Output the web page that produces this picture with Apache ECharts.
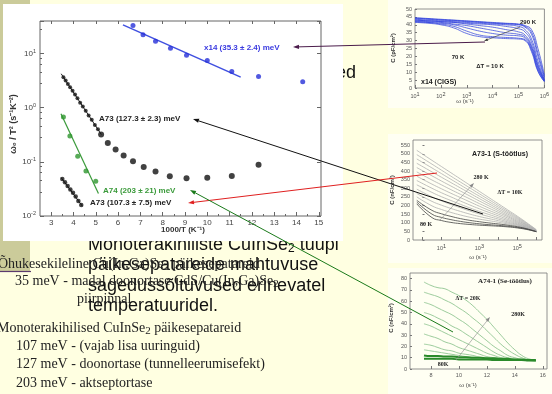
<!DOCTYPE html>
<html><head><meta charset="utf-8">
<script src="https://cdn.jsdelivr.net/npm/echarts@6/dist/echarts.min.js"></script>
<style>html,body{margin:0;padding:0;background:#FFFFE1;}#c{width:552px;height:394px;}</style>
</head><body><div id="c"></div>
<script>
// ---------- main Arrhenius plot data ----------
const mainXTicks = [3,4,5,6,7,8,9,10,11,12,13,14,15];
const x14T = [6.67,7.12,7.68,8.35,9.07,10.0,11.1,12.3,14.28];
const x14W = [33,22.2,16.9,12.6,9.35,7.47,4.68,3.78,3.02];
const x14FitT = [6.22,11.5];
const x14FitW = [33.9,3.68];
const a73hiSmallT = [3.55,3.65,3.75,3.85,3.96,4.07,4.18,4.30,4.42,4.55,4.68,4.82,4.96,5.10];
const a73hiSmallW = [3.67,3.2,2.75,2.4,2.05,1.75,1.5,1.24,1.05,0.88,0.72,0.6,0.48,0.40];
const a73hiBigT = [5.24,5.54,5.89,6.25,6.67,7.15,7.68,8.32,9.07,10.0,11.1,12.3];
const a73hiBigW = [0.32,0.224,0.169,0.131,0.103,0.080,0.0666,0.0545,0.050,0.0507,0.055,0.088];
const a73hiFitT = [3.45,5.25];
const a73hiFitW = [4.24,0.32];
const a74T = [3.55,3.84,4.19,4.56,5.0];
const a74W = [0.675,0.301,0.127,0.068,0.044];
const a74FitT = [3.44,5.12];
const a74FitW = [0.778,0.026];
const a73loT = [3.5,3.62,3.74,3.86,3.98,4.1,4.22,4.35];
const a73loW = [0.048,0.042,0.036,0.031,0.027,0.023,0.019,0.016];
const a73loFitT = [3.45,4.4];
const a73loFitW = [0.051,0.0152];

// ---------- panel 1: x14 (CIGS) C vs log10(omega) ----------
const p1X = [1,1.5,2,2.5,3,3.5,4,4.5,5,5.25,5.5,5.75,6];
const p1Curves = [
  [44.5,44,43.5,43,42.5,42,41.5,41,40.5,39.5,37,25,8],
  [44.2,43.8,43.2,42.8,42.3,41.8,41.2,40.8,40.2,39,35.5,22,7],
  [44,43.5,43,42.5,42,41.5,41,40.5,40,38.5,34,20,6],
  [43.5,43,42.5,42,41.5,41,40.5,40,39,37,31,17,5],
  [43,42.5,42,41.5,41,40.5,40,39,37.5,35.5,29,15,5],
  [43,42.5,42,41.5,40.5,39.5,38.5,37,35.5,33.5,27,14,4.5],
  [42.5,42,41.5,40.5,39.5,38,36.5,35,34,32.5,26,13,4.5],
  [42,41.5,41,40,38,36,34.5,33.5,33,31.5,25,12,4.5],
  [42,41.5,40.5,39,36,33.5,32.5,32,31.5,30.5,24,11,4],
  [41.5,41,40,38,34.5,32.5,31.8,31.3,31,30,23,10.5,4]
];
// ---------- panel 2: A73-1 (S-töötlus) ----------
const p2X = [-0.3,0.5,1,1.5,2,2.5,3,3.5,4,4.5,5,5.5,6];
const p2Curves = [
  [520,462,426,390,354,318,282,246,210,174,138,100,60],
  [495,440,405,370,336,302,268,234,200,166,132,96,58],
  [470,418,385,352,319,286,254,222,190,158,126,92,57],
  [445,395,364,333,302,271,240,210,180,150,120,88,56],
  [420,372,342,313,284,255,226,198,170,142,114,85,55],
  [395,348,320,292,265,238,211,185,160,135,108,82,54],
  [370,324,297,271,246,221,196,172,150,127,103,79,53],
  [345,300,274,250,226,203,181,160,140,119,98,76,52],
  [320,276,251,229,207,186,166,148,130,112,93,73,51],
  [295,250,227,206,187,168,151,136,121,105,89,71,50],
  [270,224,202,183,166,150,136,124,112,99,85,69,50],
  [250,198,177,160,145,132,121,112,103,93,81,67,49],
  [230,172,152,137,124,114,106,99,93,86,77,65,49],
  [220,150,131,118,108,100,94,89,85,80,73,63,48],
  [210,130,113,102,95,90,86,83,80,76,70,61,48]
];
// ---------- panel 3: A74-1 (Se-töötlus) ----------
const p3X = [7.5,8,8.5,9,9.5,10,10.5,11,11.5,12,12.5,13,13.5,14,14.5,15,15.5];
const p3Curves = [
  [77,74,72,71,68,65,61,56,50,44,37,30,23,17,12,9,8],
  [68,66,64,61,58,54,50,45,40,34,28,22,17,13,10,8,7.5],
  [59,57,54,51,48,44,40,35,30,25,20,16,12,10,8.5,8,7.5],
  [50,48,45,42,38,35,31,27,23,19,15,12,10,9,8,7.5,7.5],
  [40,38,35,32,29,26,23,20,17,14,12,10,9,8,8,7.5,7.5],
  [31,29,27,24,22,19,17,15,13,11,10,9,8,8,7.5,7.5,7],
  [22,21,19,17,16,14,13,12,10.5,10,9,8.5,8,8,7.5,7.5,7],
  [17,16,15,14,13,12,11,10.5,10,9.5,9,8.5,8,8,7.5,7.5,7]
];
const p3Band = [
  [12,11.5,11.5,11,11,10.5,10.5,10,10,9.5,9.5,9,9,8.5,8.5,8,8],
  [9,9,9,9,9,8.5,8.5,8.5,8.5,8.5,8,8,8,8,8,7.5,7.5]
];

const zip = (a,b) => a.map((v,i)=>[v,b[i]]);
const SANS = 'Liberation Sans, Arial, sans-serif';
const SERIF = 'Liberation Serif, Times New Roman, serif';
const sup = {fontSize:5.5, padding:[0,0,5,0], color:'#444', fontFamily:SANS};
const expFmt = v => '10{sup|' + Math.round(v) + '}';
const logFmt = v => '10{sup|' + Math.round(Math.log10(v)) + '}';

const chart = echarts.init(document.getElementById('c'), null, {renderer:'canvas'});

function panelAxisLabel(extra){ return Object.assign({fontSize:5.5,color:'#555',fontFamily:SANS,margin:3}, extra||{}); }

const series = [];
// main
series.push({type:'line',xAxisIndex:0,yAxisIndex:0,data:zip(x14FitT,x14FitW),symbol:'none',lineStyle:{color:'#4050e0',width:1.5},z:3});
series.push({type:'scatter',xAxisIndex:0,yAxisIndex:0,data:zip(x14T,x14W),symbolSize:5,itemStyle:{color:'#2530d8'},z:4});
series.push({type:'line',xAxisIndex:0,yAxisIndex:0,data:zip(a73hiFitT,a73hiFitW),symbol:'none',lineStyle:{color:'#222',width:1},z:3});
series.push({type:'scatter',xAxisIndex:0,yAxisIndex:0,data:zip(a73hiSmallT,a73hiSmallW),symbolSize:4,itemStyle:{color:'#111'},z:4});
series.push({type:'scatter',xAxisIndex:0,yAxisIndex:0,data:zip(a73hiBigT,a73hiBigW),symbolSize:6,itemStyle:{color:'#111'},z:4});
series.push({type:'line',xAxisIndex:0,yAxisIndex:0,data:zip(a74FitT,a74FitW),symbol:'none',lineStyle:{color:'#3a9a3a',width:1.2},z:3});
series.push({type:'scatter',xAxisIndex:0,yAxisIndex:0,data:zip(a74T,a74W),symbolSize:5,itemStyle:{color:'#2e962e'},z:4});
series.push({type:'line',xAxisIndex:0,yAxisIndex:0,data:zip(a73loFitT,a73loFitW),symbol:'none',lineStyle:{color:'#222',width:1},z:3});
series.push({type:'scatter',xAxisIndex:0,yAxisIndex:0,data:zip(a73loT,a73loW),symbolSize:4.5,itemStyle:{color:'#111'},z:4});
// panel 1
p1Curves.forEach(c=>series.push({type:'line',xAxisIndex:3,yAxisIndex:2,data:zip(p1X,c),symbol:'none',smooth:true,lineStyle:{color:'#3344dd',width:1,opacity:0.75}}));
// panel 2
p2Curves.forEach((c,i)=>series.push({type:'line',xAxisIndex:4,yAxisIndex:3,data:zip(p2X,c),symbol:'none',smooth:true,lineStyle:{color:i>=12?'#444':'#b0b0b0',width:0.8}}));
// panel 3
p3Curves.forEach(c=>series.push({type:'line',xAxisIndex:5,yAxisIndex:4,data:zip(p3X,c),symbol:'none',smooth:true,lineStyle:{color:'#9ccc9c',width:1}}));
p3Band.forEach(c=>series.push({type:'line',xAxisIndex:5,yAxisIndex:4,data:zip(p3X,c),symbol:'none',smooth:true,lineStyle:{color:'#2a8a2a',width:2}}));

function txt(x,y,s,opt){
  return Object.assign({type:'text',x:x,y:y,z:50,style:Object.assign({text:s,fontSize:8,fontWeight:'bold',fontFamily:SANS,fill:'#222',align:'left',verticalAlign:'middle'},opt||{})}, {});
}
function arrow(x1,y1,x2,y2,color,w,hs){
  hs = hs||6;
  const a = Math.atan2(y2-y1,x2-x1);
  const bx = x2 - hs*Math.cos(a), by = y2 - hs*Math.sin(a);
  const px = -Math.sin(a)*hs*0.35, py = Math.cos(a)*hs*0.35;
  return [
    {type:'line',z:60,shape:{x1:x1,y1:y1,x2:bx,y2:by},style:{stroke:color,lineWidth:w}},
    {type:'polygon',z:60,shape:{points:[[x2,y2],[bx+px,by+py],[bx-px,by-py]]},style:{fill:color}}
  ];
}
const subRich = {sub:{fontSize:11,padding:[6,0,0,0],fontFamily:SERIF,fill:'#222'}};
const bigRich = {sub:{fontSize:12,padding:[8,0,0,0],fontFamily:SANS}};

const graphic = [
  {type:'rect',z:-30,shape:{x:0,y:0,width:30,height:271},style:{fill:'#CBCB9A'}},
  {type:'line',z:-29,shape:{x1:0,y1:271.5,x2:31,y2:271.5},style:{stroke:'#5b3a6e',lineWidth:1.2}},
  // big sans text (partly behind white panel)
  {type:'text',z:-25,x:336,y:73,style:{text:'ed',fontSize:18,fontFamily:SANS,fill:'#111',verticalAlign:'middle'}},
  {type:'text',z:-25,x:88,y:245,style:{text:'Monoterakihiliste CuInSe{sub|2} tuupi',rich:bigRich,fontSize:18,fontFamily:SANS,fill:'#111',verticalAlign:'middle'}},
  {type:'text',z:-25,x:88,y:265,style:{text:'päikesepatareide mahtuvuse',fontSize:18,fontFamily:SANS,fill:'#111',verticalAlign:'middle'}},
  {type:'text',z:-25,x:88,y:286,style:{text:'sagedussõltuvused erinevatel',fontSize:18,fontFamily:SANS,fill:'#111',verticalAlign:'middle'}},
  {type:'text',z:-25,x:88,y:306,style:{text:'temperatuuridel.',fontSize:18,fontFamily:SANS,fill:'#111',verticalAlign:'middle'}},
  // serif text
  {type:'text',z:-24,x:-2,y:264,style:{text:'Õhukesekileline Cu(In,Ga)Se{sub|2} päikesepatareid',rich:subRich,fontSize:14,fontFamily:SERIF,fill:'#222',verticalAlign:'middle'}},
  {type:'text',z:-24,x:15,y:281,style:{text:'35 meV - madal doonortase CdS/Cu(In,Ga)Se{sub|2}',rich:subRich,fontSize:14,fontFamily:SERIF,fill:'#222',verticalAlign:'middle'}},
  {type:'text',z:-24,x:77,y:299,style:{text:'piirpinnal',fontSize:14,fontFamily:SERIF,fill:'#222',verticalAlign:'middle'}},
  {type:'text',z:-24,x:-3,y:328,style:{text:'Monoterakihilised CuInSe{sub|2} päikesepatareid',rich:subRich,fontSize:14,fontFamily:SERIF,fill:'#222',verticalAlign:'middle'}},
  {type:'text',z:-24,x:16,y:346,style:{text:'107 meV - (vajab lisa uuringuid)',fontSize:14,fontFamily:SERIF,fill:'#222',verticalAlign:'middle'}},
  {type:'text',z:-24,x:16,y:364,style:{text:'127 meV - doonortase (tunnelleerumisefekt)',fontSize:14,fontFamily:SERIF,fill:'#222',verticalAlign:'middle'}},
  {type:'text',z:-24,x:16,y:383,style:{text:'203 meV - aktseptortase',fontSize:14,fontFamily:SERIF,fill:'#222',verticalAlign:'middle'}},
  // white panel
  {type:'rect',z:-20,shape:{x:3,y:4,width:340,height:237},style:{fill:'#ffffff'}},
  // right image backgrounds
  {type:'rect',z:-20,shape:{x:388,y:0,width:164,height:108},style:{fill:'#FFFFF3'}},
  {type:'rect',z:-20,shape:{x:388,y:134,width:164,height:129},style:{fill:'#FFFFF3'}},
  {type:'rect',z:-20,shape:{x:388,y:268,width:164,height:126},style:{fill:'#FFFFF3'}},
  // main chart labels
  txt(204,48,'x14 (35.3 ± 2.4) meV',{fill:'#3a3ae0'}),
  txt(99,119,'A73 (127.3 ± 2.3) meV'),
  txt(103,191,'A74 (203 ± 21) meV',{fill:'#3a9a3a'}),
  txt(90,203,'A73 (107.3 ± 7.5) meV'),
  txt(183,230,'1000/T (K⁻¹)',{align:'center',fontSize:8,fill:'#333'}),
  {type:'text',z:50,x:14,y:124,rotation:Math.PI/2,style:{text:'ω₀ / T² (s⁻¹K⁻²)',fontSize:9,fontWeight:'bold',fontFamily:SANS,fill:'#333',align:'center',verticalAlign:'middle'}},
  // panel 1 labels
  txt(528,22,'290 K',{fontSize:6,align:'center'}),
  txt(458,57,'70 K',{fontSize:6,align:'center'}),
  txt(490,66,'ΔT = 10 K',{fontSize:6,align:'center'}),
  txt(421,82,'x14 (CIGS)',{fontSize:7}),
  txt(465,101,'ω (s⁻¹)',{fontSize:6,align:'center',fontWeight:'normal',fill:'#444'}),
  {type:'text',z:50,x:393,y:48,rotation:Math.PI/2,style:{text:'C (pF/cm²)',fontSize:6,fontWeight:'bold',fontFamily:SANS,fill:'#333',align:'center',verticalAlign:'middle'}},
  // panel 2 labels
  txt(500,154,'A73-1 (S-töötlus)',{fontSize:7,align:'center'}),
  txt(481,177,'280 K',{fontSize:6,fontFamily:SERIF,align:'center'}),
  txt(510,192,'ΔT = 10K',{fontSize:6,fontFamily:SERIF,align:'center'}),
  txt(426,224,'80 K',{fontSize:6,fontFamily:SERIF,align:'center'}),
  txt(478,257,'ω (s⁻¹)',{fontSize:6,align:'center',fontWeight:'normal',fill:'#444'}),
  {type:'text',z:50,x:392,y:190,rotation:Math.PI/2,style:{text:'C (nF/cm²)',fontSize:6,fontWeight:'bold',fontFamily:SANS,fill:'#333',align:'center',verticalAlign:'middle'}},
  // panel 3 labels
  txt(505,281,'A74-1 (Se-töötlus)',{fontSize:7,fontFamily:SERIF,align:'center'}),
  txt(468,298,'ΔT = 20K',{fontSize:6,fontFamily:SERIF,align:'center'}),
  txt(518,314,'280K',{fontSize:6,fontFamily:SERIF,align:'center'}),
  txt(443,364,'80K',{fontSize:6,fontFamily:SERIF,align:'center'}),
  txt(468,385,'ω (s⁻¹)',{fontSize:6,align:'center',fontWeight:'normal',fill:'#444'}),
  {type:'text',z:50,x:391,y:318,rotation:Math.PI/2,style:{text:'C (nF/cm²)',fontSize:6,fontWeight:'bold',fontFamily:SANS,fill:'#333',align:'center',verticalAlign:'middle'}}
]
.concat(arrow(520,27,484,41,'#333',0.6,4))
.concat(arrow(440,220,474,183,'#888',0.6,5))
.concat(arrow(456,360,490,317,'#888',0.6,5))
.concat(arrow(485,42,293,47,'#4b1c4b',1,6))
.concat(arrow(483,214,193,119,'#111',1,6))
.concat(arrow(437,173,188,203,'#e02020',1,6))
.concat(arrow(453,332,190,190,'#1a7a1a',1,6));

const axisCol = '#666';
const option = {
  animation:false,
  backgroundColor:'#FFFFE1',
  grid:[
    {left:40,top:21,width:281,height:195,containLabel:false,show:true,borderColor:axisCol,borderWidth:1,backgroundColor:'transparent'},
    {left:415,top:9,width:132,height:79,containLabel:false,show:true,borderColor:'#777',borderWidth:0.8,backgroundColor:'transparent'},
    {left:413,top:140,width:129,height:100,containLabel:false,show:true,borderColor:'#777',borderWidth:0.8,backgroundColor:'transparent'},
    {left:410,top:273,width:137,height:96,containLabel:false,show:true,borderColor:'#777',borderWidth:0.8,backgroundColor:'transparent'}
  ],
  xAxis:[
    {gridIndex:0,type:'value',min:2.5,max:15.1,position:'bottom',splitLine:{show:false},axisLine:{show:false},
     axisTick:{inside:true,length:4,customValues:mainXTicks,lineStyle:{color:axisCol}},
     axisLabel:{customValues:mainXTicks,fontSize:8,color:'#444',fontFamily:SANS,margin:3}},
    {gridIndex:0,type:'value',min:2.5,max:15.1,position:'bottom',splitLine:{show:false},axisLine:{show:false},
     axisTick:{inside:true,length:2,customValues:mainXTicks.map(v=>v+0.5).filter(v=>v<15.1),lineStyle:{color:axisCol}},axisLabel:{show:false}},
    {gridIndex:0,type:'value',min:2.5,max:15.1,position:'top',splitLine:{show:false},axisLine:{show:false},
     axisTick:{inside:true,length:3,customValues:mainXTicks,lineStyle:{color:axisCol}},axisLabel:{show:false}},
    {gridIndex:1,type:'value',min:1,max:6,interval:1,splitLine:{show:false},axisLine:{show:false},
     axisTick:{inside:true,length:3,lineStyle:{color:'#777'}},axisLabel:panelAxisLabel({formatter:expFmt,rich:{sup:sup}})},
    {gridIndex:2,type:'value',min:-0.5,max:6.3,splitLine:{show:false},axisLine:{show:false},
     axisTick:{inside:true,length:3,customValues:[0,1,2,3,4,5,6],lineStyle:{color:'#777'}},
     axisLabel:panelAxisLabel({customValues:[1,3,5],formatter:expFmt,rich:{sup:sup}})},
    {gridIndex:3,type:'value',min:6.5,max:16.3,splitLine:{show:false},axisLine:{show:false},
     axisTick:{inside:true,length:3,customValues:[8,10,12,14,16],lineStyle:{color:'#777'}},
     axisLabel:panelAxisLabel({customValues:[8,10,12,14,16]})}
  ],
  yAxis:[
    {gridIndex:0,type:'log',logBase:10,min:0.01,max:40,splitLine:{show:false},axisLine:{show:false},
     axisTick:{inside:true,length:4,lineStyle:{color:axisCol}},
     minorTick:{show:true,splitNumber:5,length:2,lineStyle:{color:axisCol}},
     axisLabel:{formatter:logFmt,rich:{sup:sup},fontSize:8,color:'#444',fontFamily:SANS,margin:4,showMaxLabel:false}},
    {gridIndex:0,type:'log',logBase:10,min:0.01,max:40,position:'right',splitLine:{show:false},axisLine:{show:false},
     axisTick:{inside:true,length:4,lineStyle:{color:axisCol}},axisLabel:{show:false}},
    {gridIndex:1,type:'value',min:0,max:50,interval:5,splitLine:{show:false},axisLine:{show:false},
     axisTick:{inside:true,length:2,lineStyle:{color:'#777'}},axisLabel:panelAxisLabel()},
    {gridIndex:2,type:'value',min:0,max:580,interval:50,splitLine:{show:false},axisLine:{show:false},
     axisTick:{inside:true,length:2,lineStyle:{color:'#777'}},axisLabel:panelAxisLabel({showMaxLabel:false})},
    {gridIndex:3,type:'value',min:0,max:85,interval:10,splitLine:{show:false},axisLine:{show:false},
     axisTick:{inside:true,length:2,lineStyle:{color:'#777'}},axisLabel:panelAxisLabel({showMaxLabel:false})}
  ],
  series:series,
  graphic:graphic
};
chart.setOption(option);
</script></body></html>
